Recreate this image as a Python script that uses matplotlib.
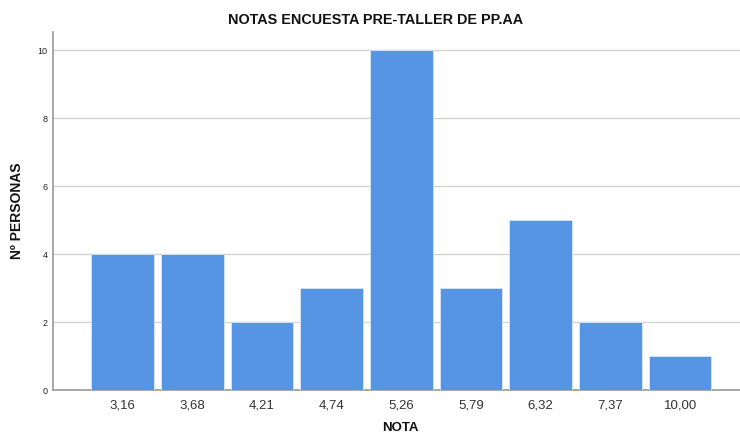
import matplotlib
matplotlib.use("Agg")
import matplotlib.pyplot as plt

categories = ["3,16", "3,68", "4,21", "4,74", "5,26", "5,79", "6,32", "7,37", "10,00"]
counts = [4, 4, 2, 3, 10, 3, 5, 2, 1]
yticks = [0, 2, 4, 6, 8, 10]

plt.rcParams['font.family'] = ['Liberation Sans', 'DejaVu Sans']

fig = plt.figure(figsize=(7.4, 4.36), dpi=100)
ax = fig.add_axes([53/740, 46/436, 1 - 53/740, (390-32)/436])

x = list(range(len(categories)))
ax.bar(x, counts, width=0.9, color="#5595E3", edgecolor="#d8e6f7", linewidth=0.6, zorder=3)

ax.set_xlim(-1, 8.86)
ax.set_ylim(0, 10.53)
ax.set_yticks(yticks)
ax.set_yticklabels([str(v) for v in yticks], fontsize=6.5, color="#222222")
ax.set_xticks(x)
ax.set_xticklabels(categories, fontsize=9.5, color="#333333")
ax.tick_params(axis='both', length=0, pad=4)
ax.tick_params(axis='x', pad=7)
ax.grid(axis='y', color="#d4d4d4", linewidth=1.0, zorder=0)
for s in ['top', 'right']:
    ax.spines[s].set_visible(False)
ax.spines['left'].set_color("#9a9a9a")
ax.spines['bottom'].set_color("#9a9a9a")
ax.spines['left'].set_linewidth(1.2)
ax.spines['bottom'].set_linewidth(1.2)

fig.text(376/740, 1 - 20/436, "NOTAS ENCUESTA PRE-TALLER DE PP.AA", ha='center', va='center',
         fontsize=10.4, fontweight='bold', color="#111111")
fig.text(400/740, 1 - 428/436, "NOTA", ha='center', va='center', fontsize=9.5, fontweight='bold', color="#111111")
fig.text(17/740, 1 - 211/436, "Nº PERSONAS", ha='center', va='center', rotation=90,
         fontsize=10, fontweight='bold', color="#111111")

fig.savefig("out.png", dpi=100)
